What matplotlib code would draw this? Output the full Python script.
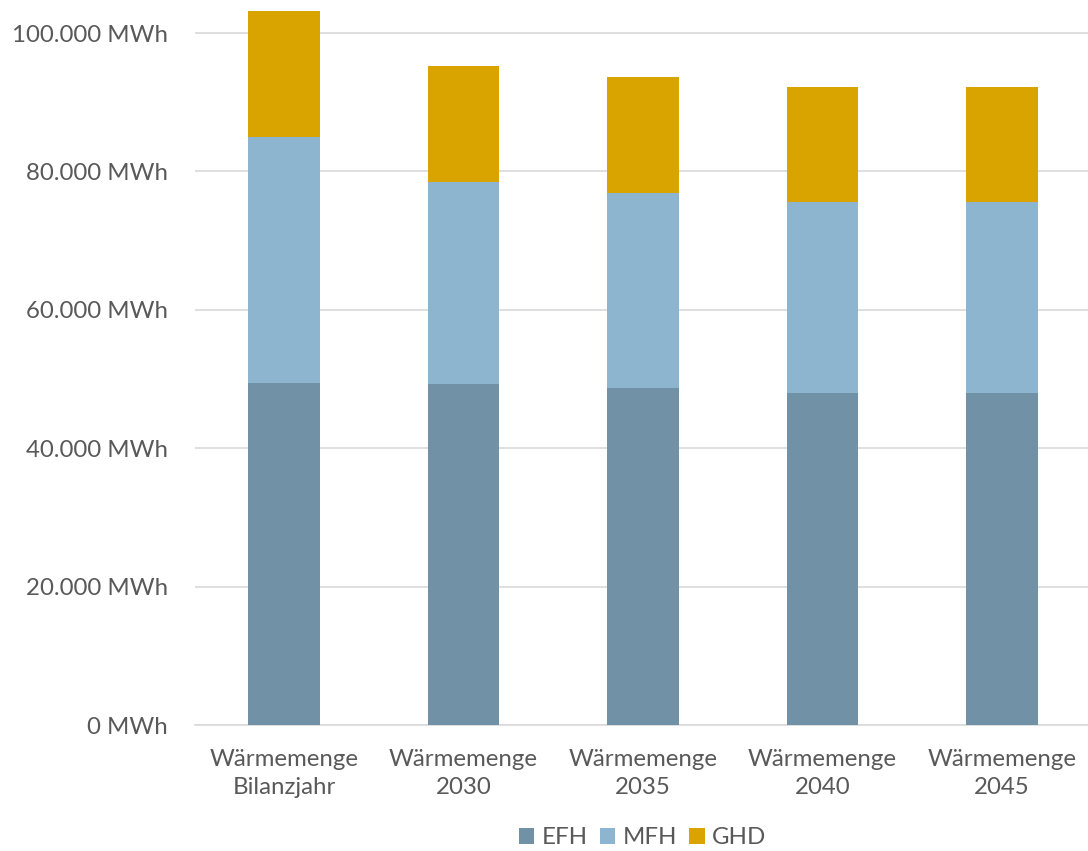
import matplotlib
matplotlib.use("Agg")
import matplotlib.pyplot as plt
from matplotlib.ticker import FuncFormatter

categories = ["Wärmemenge\nBilanzjahr", "Wärmemenge\n2030", "Wärmemenge\n2035",
              "Wärmemenge\n2040", "Wärmemenge\n2045"]
efh = [49400, 49300, 48700, 48000, 48000]
mfh = [35600, 29200, 28200, 27600, 27600]
ghd = [18200, 16700, 16700, 16600, 16600]

colors = {"EFH": "#7191a6", "MFH": "#8eb5cf", "GHD": "#d9a400"}
text_color = "#595959"

plt.rcParams['font.family'] = ['Lato', 'DejaVu Sans']

fig = plt.figure(figsize=(10.88, 8.51), dpi=100)
ax = fig.add_axes([194.5 / 1088, 1 - 725 / 851, 897 / 1088, 720 / 851])

x = list(range(len(categories)))
bottom2 = [a + b for a, b in zip(efh, mfh)]
ax.bar(x, efh, width=0.4, color=colors["EFH"], label="EFH", zorder=3)
ax.bar(x, mfh, width=0.4, bottom=efh, color=colors["MFH"], label="MFH", zorder=3)
ax.bar(x, ghd, width=0.4, bottom=bottom2, color=colors["GHD"], label="GHD", zorder=3)

ax.set_xlim(-0.5, len(categories) - 0.5)
ax.set_ylim(0, 104050)
ax.set_yticks(range(0, 100001, 20000))
ax.yaxis.set_major_formatter(FuncFormatter(lambda v, p: f"{int(v):,}".replace(",", ".") + " MWh"))
ax.grid(axis="y", color="#d9d9d9", linewidth=1.2, zorder=0)
ax.set_xticks(x)
ax.set_xticklabels(categories, fontsize=17.3, color=text_color, linespacing=1.45)
ax.tick_params(axis="y", labelsize=17.3, labelcolor=text_color, length=0, pad=19)
ax.tick_params(axis="x", length=0, pad=17)
for s in ["top", "right", "left"]:
    ax.spines[s].set_visible(False)
ax.spines["bottom"].set_color("#d9d9d9")
ax.spines["bottom"].set_linewidth(1.2)

fig.legend(loc="lower center", bbox_to_anchor=(0.5905, -0.022), ncol=3, frameon=False,
           fontsize=17.3, handlelength=0.65, handleheight=0.65, handletextpad=0.3,
           columnspacing=0.5, labelcolor=text_color)

fig.savefig("out.png", dpi=100)
